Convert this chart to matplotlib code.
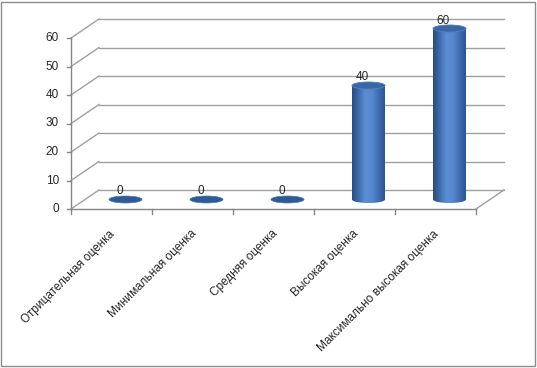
import numpy as np
import matplotlib.pyplot as plt
from matplotlib.patches import Ellipse, Rectangle, PathPatch
from matplotlib.path import Path
from matplotlib.colors import LinearSegmentedColormap

# --- Data ---
categories = ["Отрицательная оценка", "Минимальная оценка", "Средняя оценка",
              "Высокая оценка", "Максимально высокая оценка"]
values = [0, 0, 0, 40, 60]
y_ticks = [0, 10, 20, 30, 40, 50, 60]

plt.rcParams['font.family'] = ['Liberation Sans', 'DejaVu Sans']
txt_c = '#262626'
fs = 8.5

# --- Figure: one axes over whole canvas, limits set so front plot area sits right ---
W, H = 537, 368
px_cat, px_val = 81.0, 2.85
x0_px, y0_px = 71.0, 159.0   # pixel position of (x=-0.5, y=0), from bottom-left

fig = plt.figure(figsize=(W / 100, H / 100), dpi=100)
ax = fig.add_axes([0, 0, 1, 1])
ax.axis('off')

dx, dy = 28 / px_cat, 19 / px_val   # depth offset of back wall
grid_c = '#a0a0a0'
axis_c = '#868686'
n = len(categories)

# walls and gridlines
for v in y_ticks:
    ax.plot([-0.5, -0.5 + dx], [v, v + dy], color=grid_c, lw=1)
    ax.plot([-0.5 + dx, n - 0.5 + dx], [v + dy, v + dy], color=grid_c, lw=1)
    ax.plot([-0.5, -0.5 - 4 / px_cat], [v, v], color=axis_c, lw=1)
    ax.text(-0.5 - 12 / px_cat, v, str(v), ha='right', va='center', fontsize=fs, color=txt_c)

ax.plot([-0.5, -0.5], [0, max(y_ticks)], color=axis_c, lw=1)
ax.plot([-0.5, n - 0.5], [0, 0], color=axis_c, lw=1)
ax.plot([n - 0.5, n - 0.5 + dx], [0, dy], color=grid_c, lw=1)
for b in np.arange(-0.5, n, 1.0):
    ax.plot([b, b], [0, -5 / px_val], color=axis_c, lw=1)

# --- Cylinders ---
cmap = LinearSegmentedColormap.from_list('cyl', ['#2a4c80', '#3d6cad', '#5a8ed4',
                                                  '#5889d0', '#3f70b2', '#2c5590'])
grad = np.linspace(0, 1, 64).reshape(1, -1)
w = 33 / px_cat
eh = 7 / px_val
base = dy / 2

for i, v in enumerate(values):
    cx = i + dx / 2
    if v > 0:
        top = base + v
        t = np.linspace(np.pi, 2 * np.pi, 40)
        verts = [(cx - w / 2, top), (cx - w / 2, base)]
        verts += list(zip(cx + w / 2 * np.cos(t), base + eh / 2 * np.sin(t)))
        verts += [(cx + w / 2, top), (cx - w / 2, top)]
        codes = [Path.MOVETO] + [Path.LINETO] * (len(verts) - 2) + [Path.CLOSEPOLY]
        body = PathPatch(Path(verts, codes), facecolor='none', edgecolor='none')
        ax.add_patch(body)
        im = ax.imshow(grad, extent=(cx - w / 2, cx + w / 2, base - eh / 2, top),
                       aspect='auto', cmap=cmap, interpolation='bilinear', zorder=3)
        im.set_clip_path(body)
        ax.add_patch(Ellipse((cx, top), w, eh, facecolor='#3b67a3',
                             edgecolor='#4f7fc0', lw=0.6, zorder=4))
    else:
        top = base
        ax.add_patch(Ellipse((cx, top), w, eh, facecolor='#2f5b94',
                             edgecolor='#4a78b5', lw=0.5, zorder=4))
    ax.text(cx - 6 / px_cat, top + 8 / px_val, str(v), ha='center', va='center',
            fontsize=fs, color=txt_c, zorder=5)

# --- Category labels ---
for i, lab in enumerate(categories):
    ax.text(i - 0.03, -19 / px_val, lab, rotation=45, ha='right', va='top',
            rotation_mode='anchor', fontsize=fs, color=txt_c)

ax.set_xlim(-0.5 - x0_px / px_cat, -0.5 + (W - x0_px) / px_cat)
ax.set_ylim(-y0_px / px_val, (H - y0_px) / px_val)

fig.patches.append(Rectangle((1 / W, 2 / H), 1 - 3 / W, 1 - 4 / H, transform=fig.transFigure,
                             fill=False, edgecolor='#8c8c8c', lw=1))

plt.savefig("out.png", dpi=100)
plt.close()
